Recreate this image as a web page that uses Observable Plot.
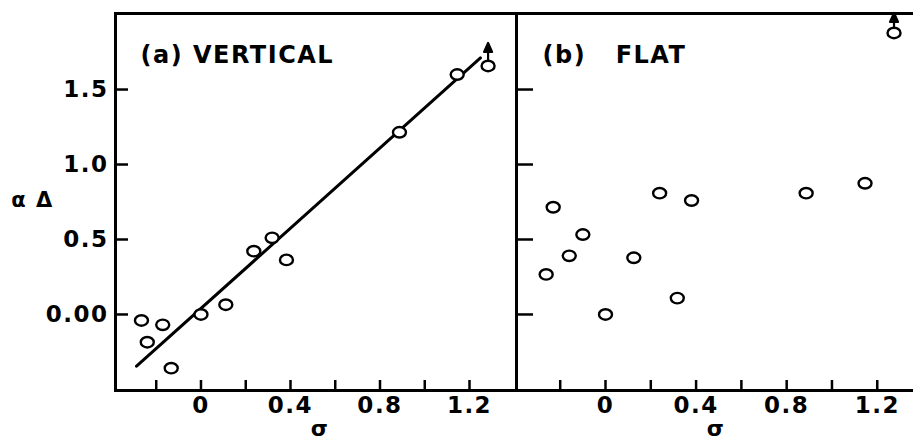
<!DOCTYPE html>
<html><head><meta charset="utf-8">
<script src="https://cdn.jsdelivr.net/npm/d3@7"></script>
<script src="https://cdn.jsdelivr.net/npm/@observablehq/plot@0.6"></script>
<style>
html,body{margin:0;padding:0;background:#fff;overflow:hidden;}
#wrap{display:flex;width:913px;height:439px;}
#wrap svg{flex:none;}
</style></head><body><div id="wrap"></div>
<script>
// Panel (a) VERTICAL
const sigmaA = [-0.266, -0.24, -0.171, -0.133, 0.0, 0.111, 0.236, 0.318, 0.382, 0.887, 1.145, 1.283];
const valueA = [-0.04, -0.185, -0.069, -0.358, 0.0, 0.065, 0.422, 0.511, 0.364, 1.215, 1.60, 1.657];
// fitted line endpoints (a)
const fitSigmaA = [-0.288, 1.249];
const fitValueA = [-0.345, 1.711];
// lower-bound points (arrow up)
const arrowSigmaA = [1.283];
const arrowValueA = [1.657];

// Panel (b) FLAT
const sigmaB = [-0.262, -0.231, -0.16, -0.10, 0.0, 0.125, 0.239, 0.317, 0.38, 0.886, 1.146, 1.274];
const valueB = [0.267, 0.715, 0.391, 0.533, 0.0, 0.378, 0.809, 0.109, 0.76, 0.809, 0.875, 1.877];
const arrowSigmaB = [1.274];
const arrowValueB = [1.877];

// Axes
const yDomain = [-0.507, 2.007];
const xDomainA = [-0.382, 1.41];
const xDomainB = [-0.393, 1.36];
const yTicks = [0, 0.5, 1.0, 1.5];
const yTickLabels = ["0.00", "0.5", "1.0", "1.5"];
const xTicks = [-0.2, 0, 0.2, 0.4, 0.6, 0.8, 1.0, 1.2];
const xTickLabels = ["", "0", "", "0.4", "", "0.8", "", "1.2"];
const titleA = "(a) VERTICAL";
const titleB = "(b)\u00a0\u00a0\u00a0FLAT";
const yLabel = "\u03b1 \u0394";
const xLabel = "\u03c3";

const yFmt = new Map(yTicks.map((t, i) => [t, yTickLabels[i]]));
const xFmt = new Map(xTicks.map((t, i) => [t, xTickLabels[i]]));

const ptsA = sigmaA.map((s, i) => ({s, v: valueA[i]}));
const ptsB = sigmaB.map((s, i) => ({s, v: valueB[i]}));
const fitA = fitSigmaA.map((s, i) => ({s, v: fitValueA[i]}));
const arrA = arrowSigmaA.map((s, i) => ({s, v: arrowValueA[i]}));
const arrB = arrowSigmaB.map((s, i) => ({s, v: arrowValueB[i]}));

const ellipse = {
  draw(ctx, size) {
    const r = Math.sqrt(size / Math.PI), rx = r * 1.12, ry = r * 0.9, k = 0.5523;
    ctx.moveTo(rx, 0);
    ctx.bezierCurveTo(rx, ry * k, rx * k, ry, 0, ry);
    ctx.bezierCurveTo(-rx * k, ry, -rx, ry * k, -rx, 0);
    ctx.bezierCurveTo(-rx, -ry * k, -rx * k, -ry, 0, -ry);
    ctx.bezierCurveTo(rx * k, -ry, rx, -ry * k, rx, 0);
    ctx.closePath();
  }
};
const arrowShape = {
  draw(ctx, l) {
    ctx.moveTo(0, 0);
    ctx.lineTo(0, -l + 6);
    ctx.moveTo(-4, -l + 9);
    ctx.lineTo(0, -l);
    ctx.lineTo(4, -l + 9);
    ctx.closePath();
  }
};

const style = {background: "transparent", overflow: "visible", fontFamily: "DejaVu Sans", fontWeight: "bold", fontSize: "23px", letterSpacing: "1.5px", color: "black"};

const left = Plot.plot({
  width: 516, height: 439,
  marginLeft: 115, marginRight: 0, marginTop: 13, marginBottom: 49,
  style,
  x: {domain: xDomainA},
  y: {domain: yDomain},
  marks: [
    Plot.frame({stroke: "black", strokeWidth: 3}),
    Plot.axisY(yTicks, {tickSize: -13, tickPadding: 20, strokeWidth: 2.5, tickFormat: d => yFmt.get(d), label: null}),
    Plot.axisX(xTicks, {tickSize: -10, tickPadding: 16, strokeWidth: 2.5, tickFormat: d => xFmt.get(d), label: null}),
    Plot.line(fitA, {x: "s", y: "v", stroke: "black", strokeWidth: 3}),
    Plot.vector(arrA, {x: "s", y: "v", length: 23, rotate: 0, anchor: "start", shape: arrowShape, stroke: "black", fill: "black", strokeWidth: 2.2}),
    Plot.dot(ptsA, {x: "s", y: "v", r: 5.8, symbol: ellipse, fill: "white", stroke: "black", strokeWidth: 2.4}),
    Plot.text([titleA], {frameAnchor: "top-left", dx: 25, dy: 41.5, lineAnchor: "middle", textAnchor: "start", fontSize: 24}),
    Plot.text([yLabel], {frameAnchor: "left", dx: -83, dy: -2, textAnchor: "middle", lineAnchor: "middle", fontSize: 21}),
    Plot.text([xLabel], {frameAnchor: "bottom", dx: 4, dy: 38, textAnchor: "middle", lineAnchor: "middle", fontSize: 22})
  ]
});

const right = Plot.plot({
  width: 397, height: 439,
  marginLeft: 0, marginRight: 0, marginTop: 13, marginBottom: 49,
  style,
  x: {domain: xDomainB},
  y: {domain: yDomain},
  marks: [
    Plot.ruleY(yDomain, {stroke: "black", strokeWidth: 3}),
    Plot.axisY(yTicks, {tickSize: -17, tickPadding: 0, strokeWidth: 2.5, tickFormat: () => "", label: null}),
    Plot.axisX(xTicks, {tickSize: -10, tickPadding: 16, strokeWidth: 2.5, tickFormat: d => xFmt.get(d), label: null}),
    Plot.vector(arrB, {x: "s", y: "v", length: 20, rotate: 0, anchor: "start", shape: arrowShape, stroke: "black", fill: "black", strokeWidth: 2.2}),
    Plot.dot(ptsB, {x: "s", y: "v", r: 5.8, symbol: ellipse, fill: "white", stroke: "black", strokeWidth: 2.4}),
    Plot.text([titleB], {frameAnchor: "top-left", dx: 26, dy: 41.5, lineAnchor: "middle", textAnchor: "start", fontSize: 24}),
    Plot.text([xLabel], {frameAnchor: "bottom", dx: 1, dy: 38, textAnchor: "middle", lineAnchor: "middle", fontSize: 22})
  ]
});

const wrap = document.getElementById("wrap");
wrap.appendChild(left);
wrap.appendChild(right);
</script>
</body></html>
